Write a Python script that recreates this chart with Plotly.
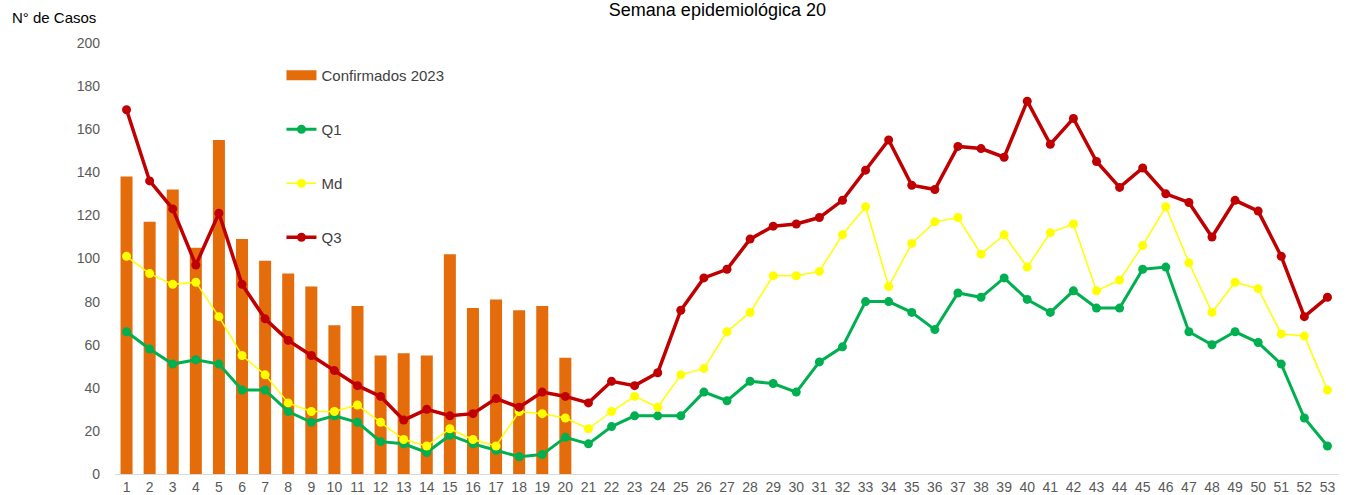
import plotly.graph_objects as go

weeks = [str(i) for i in range(1, 54)]
confirmados_2023 = [138, 117, 132, 105, 155, 109, 99, 93, 87, 69, 78, 55, 56, 55, 102, 77, 81, 76, 78, 54]
q1 = [66, 58, 51, 53, 51, 39, 39, 29, 24, 27, 24, 15, 14, 10, 18, 14, 11, 8, 9, 17,
      14, 22, 27, 27, 27, 38, 34, 43, 42, 38, 52, 59, 80, 80, 75, 67, 84, 82, 91, 81,
      75, 85, 77, 77, 95, 96, 66, 60, 66, 61, 51, 26, 13]
md = [101, 93, 88, 89, 73, 55, 46, 33, 29, 29, 32, 24, 16, 13, 21, 16, 13, 29, 28, 26,
      21, 29, 36, 31, 46, 49, 66, 75, 92, 92, 94, 111, 124, 87, 107, 117, 119, 102, 111, 96,
      112, 116, 85, 90, 106, 124, 98, 75, 89, 86, 65, 64, 39]
q3 = [169, 136, 123, 97, 121, 88, 72, 62, 55, 48, 41, 36, 25, 30, 27, 28, 35, 31, 38, 36,
      33, 43, 41, 47, 76, 91, 95, 109, 115, 116, 119, 127, 141, 155, 134, 132, 152, 151, 147, 173,
      153, 165, 145, 133, 142, 130, 126, 110, 127, 122, 101, 73, 82]
y_ticks = [0, 20, 40, 60, 80, 100, 120, 140, 160, 180, 200]

FONT = "Liberation Sans, Arial, sans-serif"
ORANGE = "#E46C0A"

fig = go.Figure()
fig.add_trace(go.Bar(x=weeks[:len(confirmados_2023)], y=confirmados_2023, name="Confirmados 2023",
                     marker=dict(color=ORANGE, line=dict(width=0)), showlegend=False))
# legend-only entry so the bar key is drawn as a wide swatch
fig.add_trace(go.Scatter(x=[None], y=[None], name="Confirmados 2023", mode="lines",
                         line=dict(color=ORANGE, width=11), legendgroup="a"))
fig.add_trace(go.Scatter(x=weeks, y=q1, name="Q1", mode="lines+markers",
                         line=dict(color="#00B050", width=3), marker=dict(size=9, color="#00B050"),
                         legendgroup="b"))
fig.add_trace(go.Scatter(x=weeks, y=md, name="Md", mode="lines+markers",
                         line=dict(color="#FFFF00", width=1.5), marker=dict(size=9, color="#FFFF00"),
                         legendgroup="c"))
fig.add_trace(go.Scatter(x=weeks, y=q3, name="Q3", mode="lines+markers",
                         line=dict(color="#C00000", width=3.5), marker=dict(size=9, color="#C00000"),
                         legendgroup="d"))

fig.update_layout(
    width=1346, height=495,
    margin=dict(l=115, r=7, t=43, b=21, autoexpand=False),
    paper_bgcolor="white", plot_bgcolor="white",
    font=dict(family=FONT, size=14, color="#595959"),
    bargap=0.48,
    title=dict(text="Semana epidemiológica 20", xref="container", x=0.533, xanchor="center",
               y=0.98, yanchor="middle",
               font=dict(family=FONT, size=18, color="#000000")),
    legend=dict(x=0.136, y=0.963, xanchor="left", yanchor="top", traceorder="grouped",
                tracegroupgap=31.5, font=dict(family=FONT, size=15, color="#404040"),
                bgcolor="rgba(0,0,0,0)", itemwidth=30),
    xaxis=dict(type="category", categoryorder="array", categoryarray=weeks, automargin=False,
               range=[-0.5, 52.5], showgrid=False, showline=True, linecolor="#D9D9D9", linewidth=1,
               ticks="", tickfont=dict(size=14, color="#595959"), zeroline=False),
    yaxis=dict(range=[0, 200], tickvals=y_ticks, showgrid=False, showline=False, zeroline=False,
               automargin=False, ticks="", ticklabelstandoff=14,
               tickfont=dict(size=14, color="#595959")),
    annotations=[dict(text="N° de Casos", xref="paper", yref="paper", x=-0.0858, y=1.0603,
                      xanchor="left", yanchor="middle", showarrow=False,
                      font=dict(family=FONT, size=15, color="#000000"))],
)

fig.write_html("out.html", config={"displayModeBar": False},
               post_script="document.body.style.margin='0';")
